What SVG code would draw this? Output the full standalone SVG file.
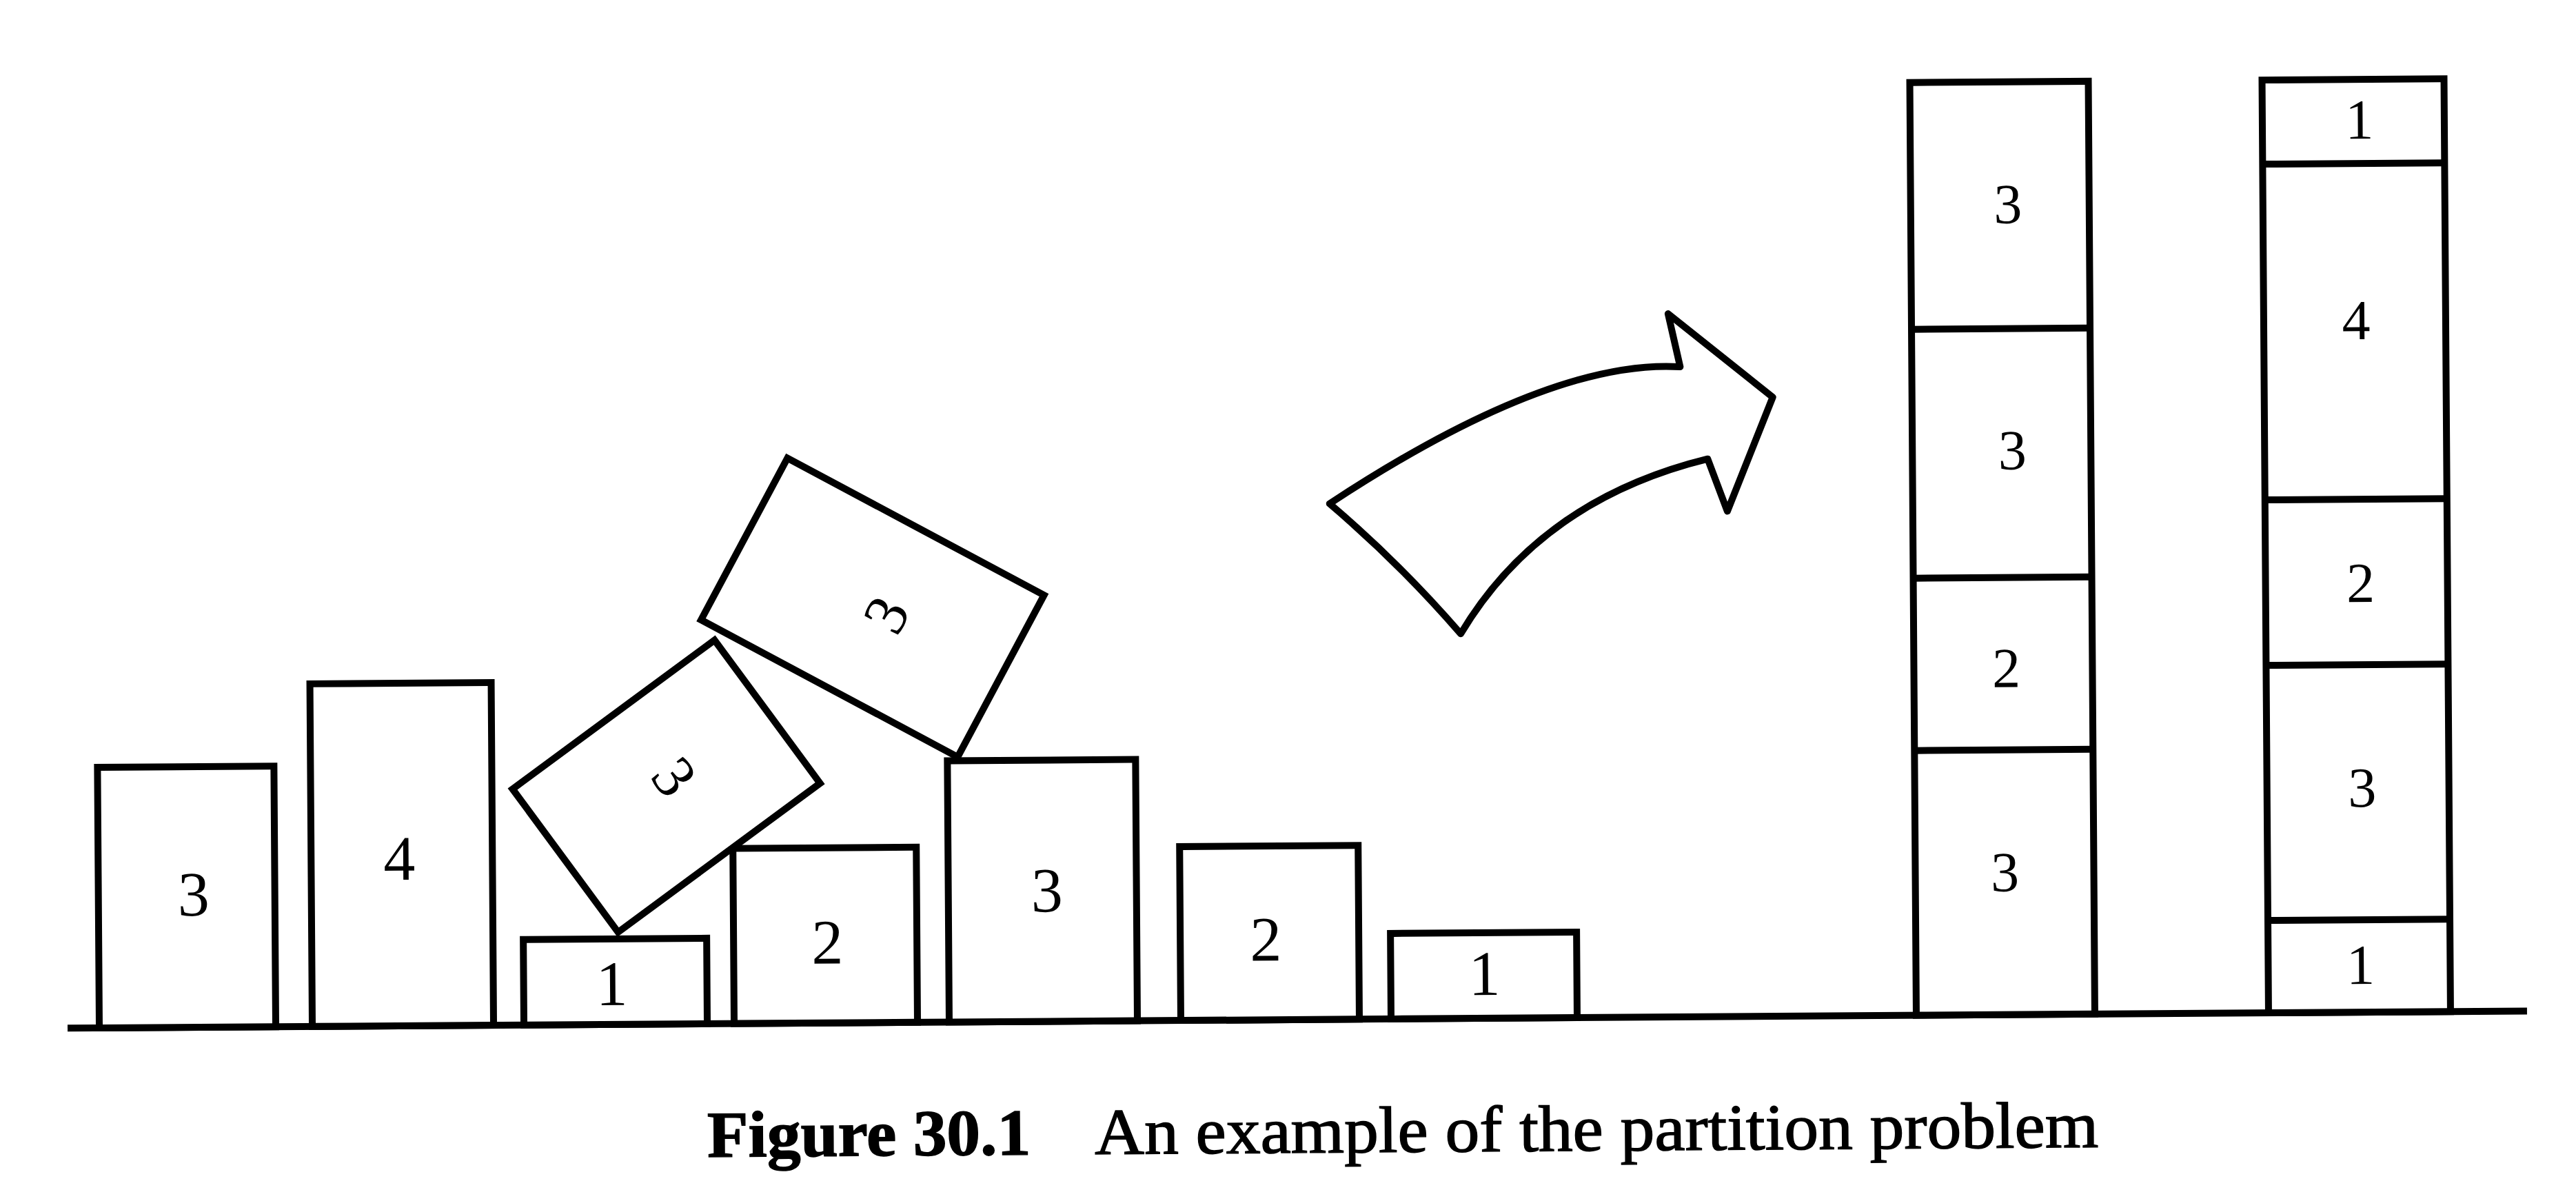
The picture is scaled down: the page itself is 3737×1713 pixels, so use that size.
<svg xmlns="http://www.w3.org/2000/svg" width="3737" height="1713" viewBox="0 0 3737 1713">
<style>
.bx{fill:#fff;stroke:#000;stroke-width:10;stroke-linejoin:miter}
.ln{stroke:#000;stroke-width:10;fill:none}
.lb{font-family:"Liberation Serif","Times New Roman",serif;font-size:92px;text-anchor:middle;fill:#000}
.ls{font-family:"Liberation Serif","Times New Roman",serif;font-size:82px;text-anchor:middle;fill:#000}
.lt{font-family:"Liberation Serif","Times New Roman",serif;font-size:88px;text-anchor:middle;fill:#000}
.cap{font-family:"Liberation Serif","Times New Roman",serif;font-size:95px;fill:#000;stroke:#000;stroke-width:1.5}
</style>
<rect width="3737" height="1713" fill="#fff"/>
<g transform="rotate(-0.4 1868 1480)">
<g id="ground"><line class="ln" x1="98" y1="1479" x2="3666" y2="1479" stroke-width="11"/></g>
<g id="item-a3"><rect class="bx" x="144" y="1101" width="256" height="378"/><text class="lb" x="282" y="1317">3</text></g>
<g id="item-a4"><rect class="bx" x="453" y="982" width="263" height="497"/><text class="lb" x="581" y="1267">4</text></g>
<g id="item-a1"><rect class="bx" x="760" y="1355" width="266" height="124"/><text class="lb" x="888" y="1451">1</text></g>
<g id="item-a2"><rect class="bx" x="1065" y="1225" width="266" height="254"/><text class="lb" x="1201" y="1393">2</text></g>
<g id="item-b3"><rect class="bx" x="1377" y="1100" width="273" height="379"/><text class="lb" x="1520" y="1320">3</text></g>
<g id="item-b2"><rect class="bx" x="1713" y="1227" width="259" height="252"/><text class="lb" x="1837" y="1393">2</text></g>
<g id="item-b1"><rect class="bx" x="2018" y="1355" width="270" height="124"/><text class="lb" x="2154" y="1445">1</text></g>
<g id="item-tilt-lower" transform="translate(969 1134) rotate(54)"><rect class="bx" x="-129" y="-182" width="258" height="364"/><text class="lt" x="-4" y="12">3</text></g>
<g id="item-tilt-upper" transform="translate(1270 877) rotate(-61.5)"><rect class="bx" x="-133" y="-211" width="266" height="422"/><text class="lt" x="0" y="52">3</text></g>
<g id="arrow"><path class="ln" stroke-linejoin="round" d="M1934,731 Q2255,523 2444,536 L2427,459 L2578,581 L2511,746 L2483,670 Q2240,728 2123,921 Q2035,818 1934,731 Z"/></g>
<g id="stack-1"><rect class="bx" x="2780" y="126" width="259" height="1353"/>
<line class="ln" x1="2780" y1="484" x2="3039" y2="484"/><line class="ln" x1="2780" y1="845" x2="3039" y2="845"/><line class="ln" x1="2780" y1="1095" x2="3039" y2="1095"/>
<text class="ls" x="2921" y="331">3</text><text class="ls" x="2925" y="688">3</text><text class="ls" x="2914" y="1004">2</text><text class="ls" x="2910" y="1300">3</text></g>
<g id="stack-2"><rect class="bx" x="3291" y="126" width="264" height="1353"/>
<line class="ln" x1="3291" y1="248" x2="3555" y2="248"/><line class="ln" x1="3291" y1="735" x2="3555" y2="735"/><line class="ln" x1="3291" y1="975" x2="3555" y2="975"/><line class="ln" x1="3291" y1="1345" x2="3555" y2="1345"/>
<text class="ls" x="3432" y="212">1</text><text class="ls" x="3425" y="503">4</text><text class="ls" x="3429" y="884">2</text><text class="ls" x="3429" y="1181">3</text><text class="ls" x="3425" y="1438">1</text></g>
<g id="caption"><text class="cap" x="1025" y="1672" font-weight="bold" textLength="469" lengthAdjust="spacingAndGlyphs">Figure 30.1</text>
<text class="cap" x="1587" y="1672" textLength="1456" lengthAdjust="spacingAndGlyphs">An example of the partition problem</text></g>
</g>
</svg>
